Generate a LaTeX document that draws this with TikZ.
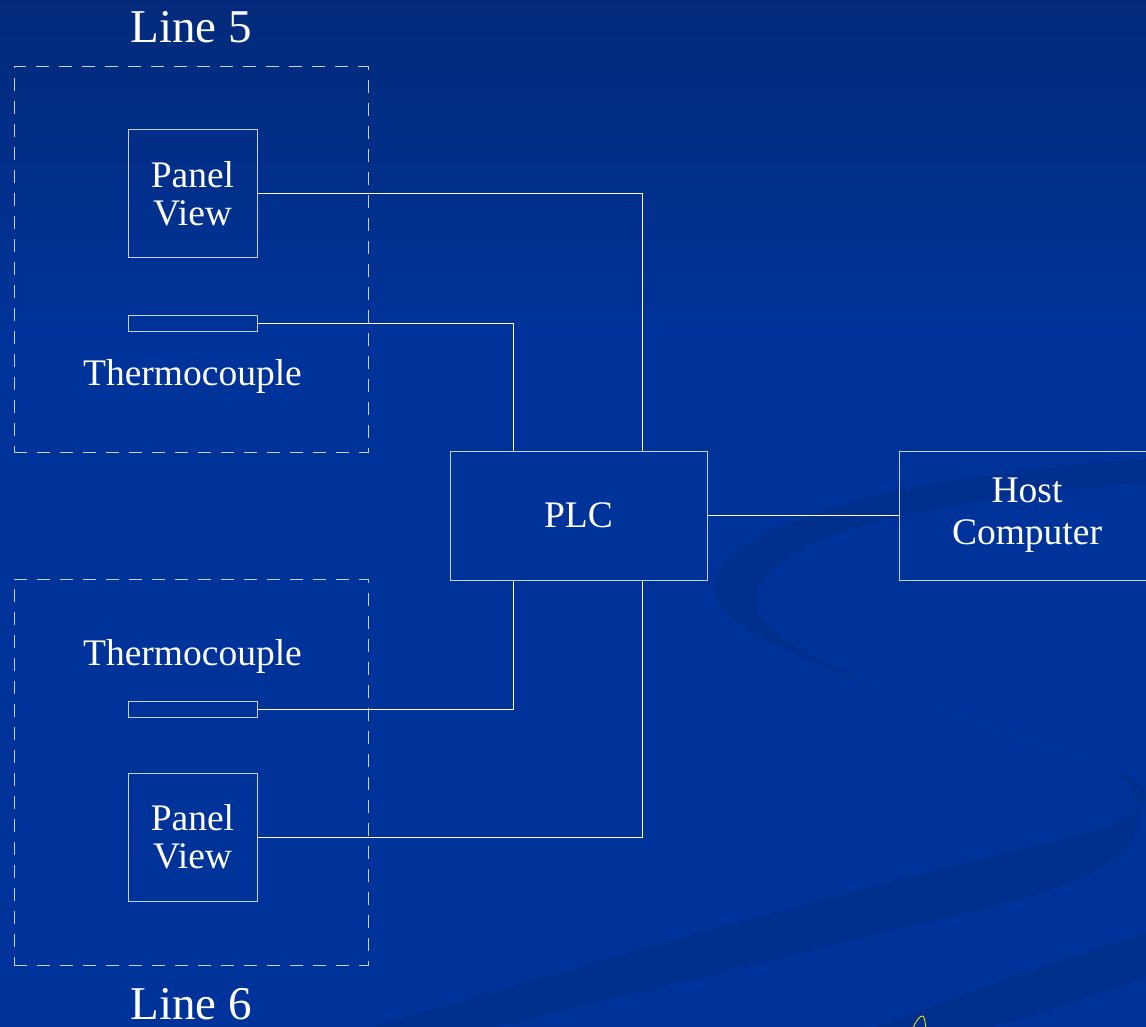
\documentclass[tikz,border=0pt]{standalone}
\usepackage{fontspec}
\setmainfont{Liberation Serif}
\newcommand\mylblfont{\fontsize{37.5}{38}\selectfont}
\newcommand\myhostfont{\fontsize{37.5}{42}\selectfont}
\newcommand\mytitlefont{\fontsize{47}{50}\selectfont}
\definecolor{bgtop}{RGB}{3,42,122}
\definecolor{bgmain}{RGB}{0,51,153}
\definecolor{boxline}{RGB}{200,208,232}
\definecolor{scribble}{RGB}{255,240,0}
\begin{document}
\begin{tikzpicture}[x=1pt,y=-1pt,
  box/.style={draw=boxline, line width=1pt, inner sep=0pt, font=\mylblfont, text=white, align=center},
  conn/.style={draw=white, line width=1pt},
  grp/.style={draw=boxline, line width=1pt, dash pattern=on 13pt off 10pt},
  lbl/.style={text=white, font=\mylblfont, inner sep=0pt, align=center},
  ttl/.style={text=white, font=\mytitlefont, inner sep=0pt},
  swoosh/.style={fill=black, fill opacity=0.08}]
\clip (0,0) rectangle (1146,1027);
% background
\fill[bgmain] (0,0) rectangle (1146,1027);
\shade[top color=bgtop, bottom color=bgmain] (0,0) rectangle (1146,330);
% swooshes
\path[swoosh] (1160,458) .. controls (850,478) and (700,540) .. (715,595)
   .. controls (730,645) and (900,695) .. (1125,772)
   .. controls (900,700) and (745,645) .. (757,595)
   .. controls (770,540) and (900,500) .. (1160,482) -- cycle;
\path[swoosh] (1120,772) .. controls (1180,800) and (1120,830) .. (1050,842)
   .. controls (850,890) and (600,960) .. (330,1040)
   -- (440,1040) .. controls (650,990) and (850,940) .. (985,908)
   .. controls (1110,878) and (1175,840) .. (1120,772) -- cycle;
\path[swoosh] (1160,930) -- (1160,972) .. controls (1080,1000) and (1000,1025) .. (950,1040)
   -- (840,1040) .. controls (950,1000) and (1050,960) .. (1160,930) -- cycle;
% groups
\node[grp, minimum width=354pt, minimum height=385pt] (g5) at (191,259.5) {};
\node[grp, minimum width=354pt, minimum height=386pt] (g6) at (191,772) {};
\node[ttl, anchor=base] (l5) at (191,43) {Line 5};
\node[ttl, anchor=base] (l6) at (191,1019) {Line 6};
% devices
\node[box, minimum width=129pt, minimum height=128pt] (pv5) at (192.5,194) {Panel\\View};
\node[box, minimum width=129pt, minimum height=16pt] (tc5) at (192.5,323) {};
\node[lbl, anchor=base] (tc5l) at (192.5,385) {Thermocouple};
\node[lbl, anchor=base] (tc6l) at (192.5,665) {Thermocouple};
\node[box, minimum width=129pt, minimum height=16pt] (tc6) at (192.5,709) {};
\node[box, minimum width=129pt, minimum height=128pt] (pv6) at (192.5,837) {Panel\\View};
\node[box, minimum width=257pt, minimum height=129pt] (plc) at (578.5,515.5) {PLC};
\node[box, minimum width=257pt, minimum height=129pt] (host) at (1027.5,515.5) {};
\node[lbl, font=\myhostfont, anchor=north] (hostl) at (1027,478) {Host\\Computer};
% connectors
\draw[conn] (pv5.east) -| ([xshift=-65pt]plc.north east);
\draw[conn] (tc5.east) -| ([xshift=64pt]plc.north west);
\draw[conn] (tc6.east) -| ([xshift=64pt]plc.south west);
\draw[conn] (pv6.east) -| ([xshift=-65pt]plc.south east);
\draw[conn] (plc.east) -- (host.west);
% yellow mark
\draw[scribble, line width=0.8pt] (913,1028) .. controls (916,1021) and (920,1015) .. (923,1016)
   .. controls (925,1018) and (925,1023) .. (926,1028);
\end{tikzpicture}
\end{document}
